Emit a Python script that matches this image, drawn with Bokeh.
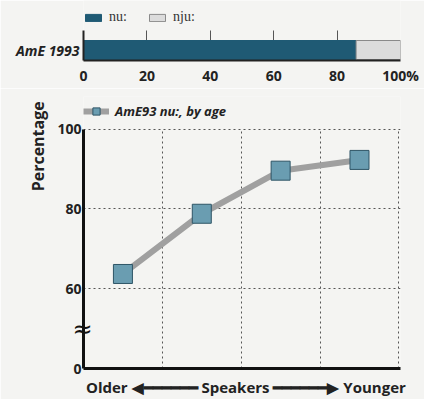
import numpy as np
from bokeh.plotting import figure
from bokeh.models import (ColumnDataSource, Range1d, FixedTicker, Legend,
                          LegendItem, LinearAxis)
from bokeh.layouts import column
from bokeh.embed import file_html
from bokeh.resources import INLINE

# ---- data ----
top_categories = ["AmE 1993"]
nu_share = [86]
nju_share = [14]
top_ticks = [0, 20, 40, 60, 80, 100]

age_groups = ["Oldest", "Older", "Younger", "Youngest"]
nu_by_age = [63.7, 78.8, 89.6, 92.3]
y_ticks = [40, 60, 80, 100]
y_tick_labels = {40: "0"}
break_at = 50
ylabel_at = 107

BG = "#f4f4f2"
DARK = "#1f5a74"
LIGHT = "#dcdcdc"
FONT = "Open Sans"

# ---- top stacked bar ----
ypos = np.arange(len(top_categories))
p1 = figure(width=424, height=88, y_range=Range1d(-0.442, 2.084),
            x_range=Range1d(0, 100), output_backend="svg", toolbar_location=None,
            min_border_left=83, min_border_right=24, min_border_top=0,
            min_border_bottom=28, background_fill_color=BG, border_fill_color=BG,
            outline_line_color=None)
src1 = ColumnDataSource(dict(y=ypos, nu=nu_share, nju=nju_share))
rs = p1.hbar_stack(["nu", "nju"], y="y", height=0.8,
                   fill_color=[DARK, LIGHT], line_color=[DARK, "#8a8a8a"],
                   line_width=1, source=src1)
for ax in (p1.xaxis, p1.yaxis):
    ax.major_tick_line_color = None
    ax.minor_tick_line_color = None
    ax.major_tick_out = 0
    ax.minor_tick_out = 0
    ax.axis_line_width = 2
    ax.axis_line_color = "#222222"
    ax.major_label_text_font = FONT
    ax.major_label_text_color = "#222222"
p1.xaxis.ticker = FixedTicker(ticks=top_ticks)
p1.xaxis.major_label_overrides = {100: "100%"}
p1.xaxis.major_label_text_font_style = "bold"
p1.xaxis.major_label_text_font_size = "14px"
p1.xaxis.major_label_standoff = 5
p1.yaxis.ticker = FixedTicker(ticks=list(ypos))
p1.yaxis.major_label_overrides = {int(i): c for i, c in zip(ypos, top_categories)}
p1.yaxis.bounds = (-0.442, 0.821)
p1.yaxis.major_label_text_font_style = "bold italic"
p1.yaxis.major_label_text_font_size = "14px"
p1.yaxis.major_label_standoff = 4
p1.ygrid.grid_line_color = None
p1.xgrid.grid_line_color = "#555555"
p1.xgrid.grid_line_width = 1
p1.xgrid.cross_bounds = (-0.442, 0.821)

leg1 = Legend(items=[LegendItem(label="nu:", renderers=[rs[0]]),
                     LegendItem(label="nju:", renderers=[rs[1]])],
              orientation="horizontal", location=(0, 35),
              label_text_font="Liberation Serif", label_text_font_size="14px",
              label_text_color="#333333", glyph_width=20, glyph_height=9,
              label_standoff=6, spacing=18, padding=0, margin=0,
              border_line_color=None, background_fill_alpha=0)
p1.add_layout(leg1)

# ---- bottom line chart ----
xs = np.arange(len(age_groups)) + 0.5
src2 = ColumnDataSource(dict(x=xs, y=nu_by_age, group=age_groups))
p2 = figure(width=424, height=311, x_range=Range1d(0, 4.02), y_range=Range1d(40, 108.2),
            output_backend="svg", toolbar_location=None,
            min_border_left=80, min_border_right=3, min_border_top=8,
            min_border_bottom=29, background_fill_color=BG, border_fill_color=BG,
            outline_line_color=None)
ln = p2.line("x", "y", source=src2, line_color="#a0a0a0", line_width=6)
sq = p2.scatter("x", "y", source=src2, marker="square", size=19,
                fill_color="#6a9db1", line_color="#2e5566", line_width=1)

p2.yaxis.ticker = FixedTicker(ticks=y_ticks)
p2.yaxis.bounds = (40, 100)
p2.yaxis.major_label_overrides = y_tick_labels
p2.yaxis.major_tick_line_color = None
p2.yaxis.minor_tick_line_color = None
p2.yaxis.major_tick_out = 0
p2.yaxis.minor_tick_out = 0
p2.yaxis.axis_line_width = 3
p2.yaxis.axis_line_color = "#111111"
p2.yaxis.major_label_text_font = FONT
p2.yaxis.major_label_text_font_style = "bold"
p2.yaxis.major_label_text_font_size = "14px"
p2.yaxis.major_label_text_color = "#222222"
p2.yaxis.major_label_standoff = 2

pct_axis = LinearAxis(ticker=FixedTicker(ticks=[ylabel_at]),
                      major_label_overrides={ylabel_at: "Percentage"},
                      major_label_orientation=np.pi / 2,
                      axis_line_color=None, major_tick_line_color=None,
                      minor_tick_line_color=None, major_tick_out=0, minor_tick_out=0,
                      major_label_standoff=16, major_label_text_font=FONT,
                      major_label_text_font_style="bold",
                      major_label_text_font_size="16px", major_label_text_color="#222222")
p2.add_layout(pct_axis, "left")

break_axis = LinearAxis(ticker=FixedTicker(ticks=[break_at]),
                        major_label_overrides={break_at: "\u2248"},
                        axis_line_color=None, major_tick_line_color=None,
                        minor_tick_line_color=None, major_tick_out=0, minor_tick_out=0,
                        major_label_standoff=-79,
                        major_label_text_font="DejaVu Sans",
                        major_label_text_font_size="24px",
                        major_label_text_color="#111111")
p2.add_layout(break_axis, "left")

p2.xaxis.ticker = FixedTicker(ticks=[])
p2.xaxis.major_tick_line_color = None
p2.xaxis.minor_tick_line_color = None
p2.xaxis.major_tick_out = 0
p2.xaxis.minor_tick_out = 0
p2.xaxis.major_label_standoff = 0
p2.xaxis.axis_line_width = 3
p2.xaxis.axis_line_color = "#111111"
p2.xaxis.axis_label = ("\u00a0\u00a0Older \u25c0\u2501\u2501\u2501\u2501\u2501\u2501 Speakers "
                       "\u2501\u2501\u2501\u2501\u2501\u2501\u25b6 Younger")
p2.xaxis.axis_label_text_font = FONT
p2.xaxis.axis_label_text_font_style = "bold"
p2.xaxis.axis_label_text_font_size = "15px"
p2.xaxis.axis_label_text_color = "#222222"
p2.xaxis.axis_label_standoff = 8

p2.xgrid.ticker = FixedTicker(ticks=[1, 2, 3, 4])
p2.xgrid.cross_bounds = (40, 100)
for g in (p2.xgrid, p2.ygrid):
    g.grid_line_color = "#555555"
    g.grid_line_width = 1
    g.grid_line_dash = "2 3"

leg2 = Legend(items=[LegendItem(label="AmE93 nu:, by age", renderers=[ln, sq])],
              location=(0, 248), label_text_font=FONT,
              label_text_font_style="bold italic", label_text_font_size="13px",
              label_text_color="#222222", glyph_width=26, glyph_height=18,
              label_standoff=6, padding=0, margin=0,
              border_line_color=None, background_fill_alpha=0)
p2.add_layout(leg2)

layout = column(p1, p2, spacing=0)
html = file_html(layout, INLINE)
html = html.replace("<body>", '<body style="background:%s">' % BG, 1)
open("out.html", "w").write(html)
